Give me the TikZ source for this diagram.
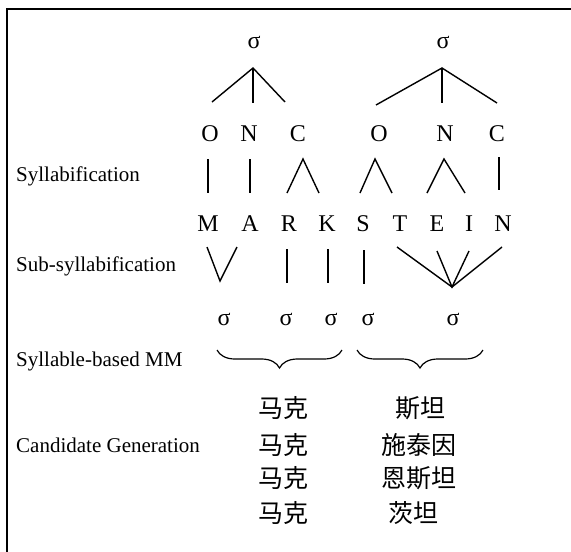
\documentclass[tikz,border=0pt]{standalone}
\usepackage{fontspec}
\setmainfont{Liberation Serif}
\newfontfamily\cjk{Noto Sans CJK SC}
\usetikzlibrary{decorations.pathreplacing}
\begin{document}
\begin{tikzpicture}[x=1pt,y=-1pt,
  lbl/.style={anchor=base west, inner sep=0pt, font=\fontsize{21}{21}\selectfont},
  ltr/.style={anchor=base, inner sep=0pt, font=\fontsize{24}{24}\selectfont},
  sig/.style={anchor=base, inner sep=0pt, font=\fontsize{24}{24}\selectfont},
  zh/.style={anchor=center, inner sep=0pt, font=\cjk\fontsize{25}{25}\selectfont},
  branch/.style={line width=1.4pt},
  bracepath/.style={line width=1.2pt, decorate, decoration={brace, mirror, amplitude=18pt}},
  frame/.style={line width=2pt}]
\useasboundingbox (0,0) rectangle (571,552);
% frame
\coordinate (fbl) at (7,552);
\coordinate (ftl) at (7,9);
\coordinate (ftr) at (571,9);
\draw[frame] (fbl) -- (ftl) -- (ftr);

% labels
\node[lbl] (l1) at (16,181) {Syllabification};
\node[lbl] (l2) at (16,271) {Sub-syllabification};
\node[lbl] (l3) at (16,366) {Syllable-based MM};
\node[lbl] (l4) at (16,452) {Candidate Generation};

% top sigmas
\node[sig] (s1) at (254,48) {σ};
\node[sig] (s2) at (443,48) {σ};

% ONC row
\node[ltr] (o1) at (210,141) {O};
\node[ltr] (n1) at (249,141) {N};
\node[ltr] (c1) at (298,141) {C};
\node[ltr] (o2) at (379,141) {O};
\node[ltr] (n2) at (445,141) {N};
\node[ltr] (c2) at (497,141) {C};

% MARKSTEIN row
\node[ltr] (m) at (208,231) {M};
\node[ltr] (a) at (250,231) {A};
\node[ltr] (r) at (289,231) {R};
\node[ltr] (k) at (327,231) {K};
\node[ltr] (s) at (363,231) {S};
\node[ltr] (t) at (400,231) {T};
\node[ltr] (e) at (437,231) {E};
\node[ltr] (i) at (469,231) {I};
\node[ltr] (nn) at (503,231) {N};

% lower sigmas
\node[sig] (q1) at (224,325) {σ};
\node[sig] (q2) at (286,325) {σ};
\node[sig] (q3) at (331,325) {σ};
\node[sig] (q4) at (368,325) {σ};
\node[sig] (q5) at (453,325) {σ};

% tree coordinates
\coordinate (t1) at (253,68);
\coordinate (t1a) at (212,102);
\coordinate (t1b) at (253,103);
\coordinate (t1c) at (285,102);
\coordinate (t2) at (442,68);
\coordinate (t2a) at (376,105);
\coordinate (t2b) at (442,103);
\coordinate (t2c) at (497,103);
\draw[branch] (t1a) -- (t1) -- (t1c);
\draw[branch] (t1) -- (t1b);
\draw[branch] (t2a) -- (t2) -- (t2c);
\draw[branch] (t2) -- (t2b);

% syllabification
\coordinate (u1) at (208,159); \coordinate (d1) at (208,193);
\coordinate (u2) at (250,159); \coordinate (d2) at (250,193);
\coordinate (p3) at (303,159); \coordinate (d3a) at (287,193); \coordinate (d3b) at (319,193);
\coordinate (p4) at (375,159); \coordinate (d4a) at (360,193); \coordinate (d4b) at (392,193);
\coordinate (p5) at (444,159); \coordinate (d5a) at (427,193); \coordinate (d5b) at (465,193);
\coordinate (u6) at (499,157); \coordinate (d6) at (499,190);
\draw[branch] (u1) -- (d1);
\draw[branch] (u2) -- (d2);
\draw[branch] (d3a) -- (p3) -- (d3b);
\draw[branch] (d4a) -- (p4) -- (d4b);
\draw[branch] (d5a) -- (p5) -- (d5b);
\draw[branch] (u6) -- (d6);

% sub-syllabification
\coordinate (v1) at (207,247); \coordinate (v0) at (220,281); \coordinate (v2) at (237,247);
\coordinate (ru) at (287,249); \coordinate (rd) at (287,283);
\coordinate (ku) at (328,249); \coordinate (kd) at (328,283);
\coordinate (su) at (364,250); \coordinate (sd) at (364,284);
\coordinate (f0) at (452,287);
\coordinate (fa) at (397,247); \coordinate (fb) at (437,251);
\coordinate (fc) at (469,251); \coordinate (fd) at (502,247);
\draw[branch] (v1) -- (v0) -- (v2);
\draw[branch] (ru) -- (rd);
\draw[branch] (ku) -- (kd);
\draw[branch] (su) -- (sd);
\draw[branch] (fa) -- (f0) -- (fd);
\draw[branch] (fb) -- (f0) -- (fc);

% braces
\coordinate (b1l) at (217,350); \coordinate (b1r) at (342,350);
\coordinate (b2l) at (357,350); \coordinate (b2r) at (483,350);
\draw[bracepath] (b1l) -- (b1r);
\draw[bracepath] (b2l) -- (b2r);

% candidates
\node[zh] (c11) at (283,408) {马克};
\node[zh] (c12) at (283,445) {马克};
\node[zh] (c13) at (283,478) {马克};
\node[zh] (c14) at (283,513) {马克};
\node[zh] (c21) at (420,408) {斯坦};
\node[zh] (c22) at (419,445) {施泰因};
\node[zh] (c23) at (419,478) {恩斯坦};
\node[zh] (c24) at (413,513) {茨坦};
\end{tikzpicture}
\end{document}
